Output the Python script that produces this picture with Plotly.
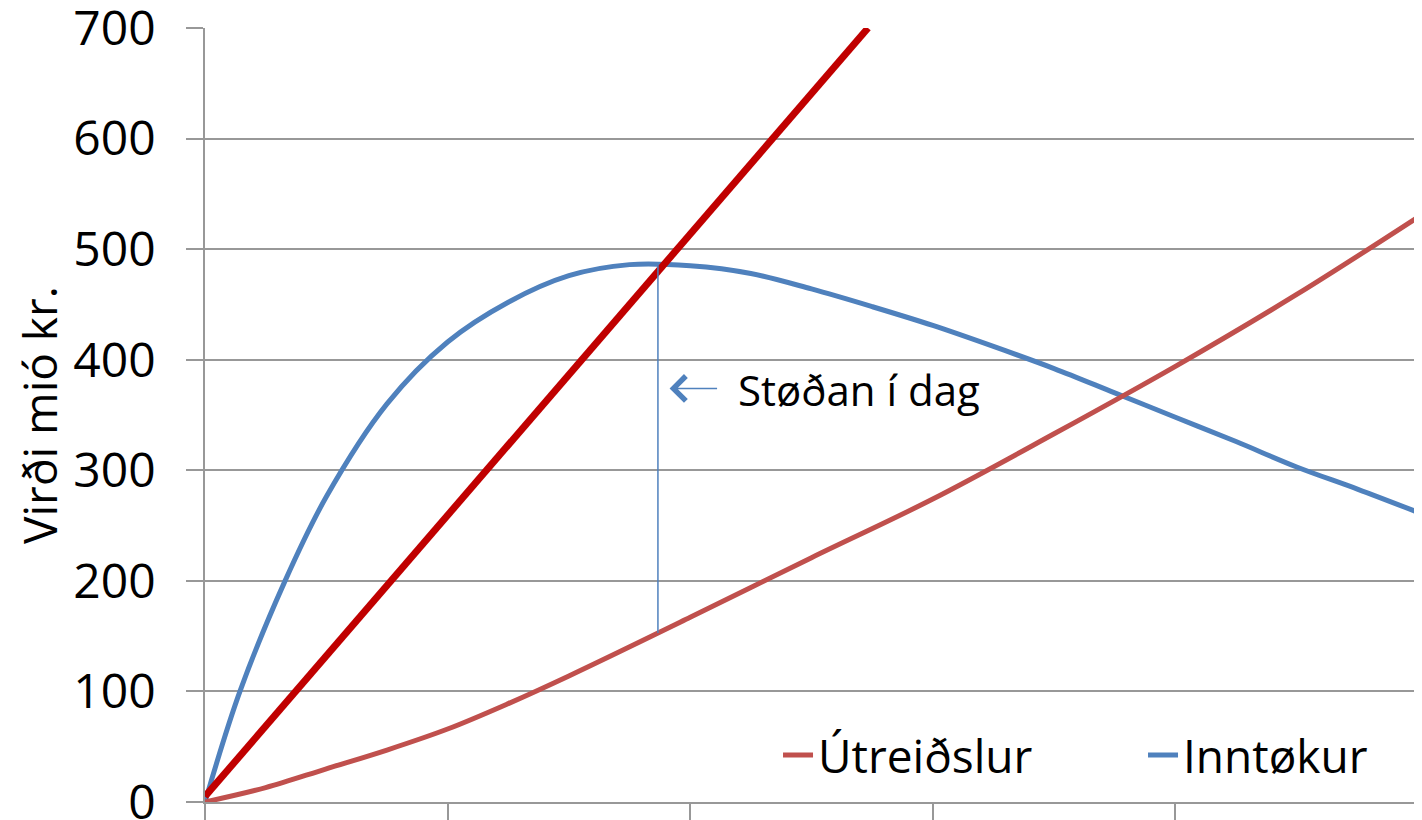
import numpy as np
import plotly.graph_objects as go

# ---- data ----
# Inntøkur (income) curve
inn_x = [0, 0.144, 0.33, 0.5, 0.75, 1.0, 1.25, 1.5, 1.75, 2.0, 2.25, 2.5,
         2.75, 3.0, 3.25, 3.5, 3.75, 4.0, 4.25, 4.5, 4.75, 5.0]
inn_y = [0, 100, 200, 276, 360, 416, 452, 476, 486, 485, 478, 464,
         448, 431, 412, 392, 370, 348, 326, 303, 283, 262]

# Útreiðslur (expenses) curve
utr_x = [0, 0.25, 0.5, 0.75, 1.0, 1.25, 1.5, 2.0, 2.5, 3.0, 3.5, 4.0, 4.5, 5.0]
utr_y = [0, 13, 30, 47, 66, 89, 114, 167, 221, 274, 333, 394, 459, 529]

# Straight dark-red line
line_x = [0, 2.733]
line_y = [5, 700]

y_ticks = [0, 100, 200, 300, 400, 500, 600, 700]
x_ticks = [0, 1, 2, 3, 4, 5]

# "Støðan í dag" marker
status_x = 1.867
status_label = "Støðan í dag"
arrow_head_x, arrow_tail_x, arrow_y = 1.915, 2.117, 374
label_x, label_y = 2.19, 373

BLUE = "#4F81BD"
BROWN = "#C0504D"
DARKRED = "#C00000"
GRID = "#989898"
FONT = "Open Sans"

fig = go.Figure()

fig.add_trace(go.Scatter(
    x=inn_x, y=inn_y, mode="lines", name="Inntøkur",
    line=dict(color=BLUE, width=5, shape="spline", smoothing=1.0),
    legendrank=2,
))
fig.add_trace(go.Scatter(
    x=utr_x, y=utr_y, mode="lines", name="Útreiðslur",
    line=dict(color=BROWN, width=5, shape="spline", smoothing=1.0),
    legendrank=1,
))
fig.add_trace(go.Scatter(
    x=line_x, y=line_y, mode="lines", name="Línuleg",
    line=dict(color=DARKRED, width=7),
    showlegend=False,
))

top_y = float(np.interp(status_x, inn_x, inn_y))
bot_y = float(np.interp(status_x, utr_x, utr_y))
fig.add_shape(type="line", xref="x", yref="y",
              x0=status_x, x1=status_x, y0=top_y, y1=bot_y,
              line=dict(color=BLUE, width=1.5))

fig.add_annotation(x=arrow_head_x, y=arrow_y, ax=arrow_tail_x, ay=arrow_y,
                   xref="x", yref="y", axref="x", ayref="y",
                   text="", showarrow=True, arrowhead=4, arrowsize=3.2,
                   arrowwidth=1.5, arrowcolor=BLUE)
fig.add_annotation(x=label_x, y=label_y, xref="x", yref="y",
                   text=status_label, showarrow=False,
                   xanchor="left", yanchor="middle",
                   font=dict(family=FONT, size=42, color="black"))

fig.update_layout(
    width=1422, height=820,
    margin=dict(l=197, r=12, t=20, b=26, autoexpand=False),
    paper_bgcolor="white", plot_bgcolor="white",
    font=dict(family=FONT, size=46, color="black"),
    showlegend=True,
    legend=dict(orientation="h", x=0.4724, xanchor="left",
                y=0.0607, yanchor="middle",
                bgcolor="rgba(0,0,0,0)", entrywidth=320,
                font=dict(family=FONT, size=46, color="black")),
)

fig.update_xaxes(
    range=[0, 5], tickvals=x_ticks, showticklabels=False,
    ticks="outside", ticklen=18, tickcolor=GRID, tickwidth=1.5,
    showline=True, linecolor=GRID, linewidth=1.5,
    showgrid=False, zeroline=False,
)
fig.update_yaxes(
    range=[0, 700], tickvals=y_ticks,
    ticks="outside", ticklen=17, tickcolor=GRID, tickwidth=1.5,
    showline=True, linecolor=GRID, linewidth=1.5,
    showgrid=True, gridcolor=GRID, gridwidth=1.5, zeroline=False,
    ticklabelstandoff=21, ticklabeloverflow="allow",
    tickfont=dict(family=FONT, size=48, color="black"),
    title=dict(text="Virði mió kr.", font=dict(family=FONT, size=46, color="black"),
               standoff=16),
)

fig.write_html("out.html")
